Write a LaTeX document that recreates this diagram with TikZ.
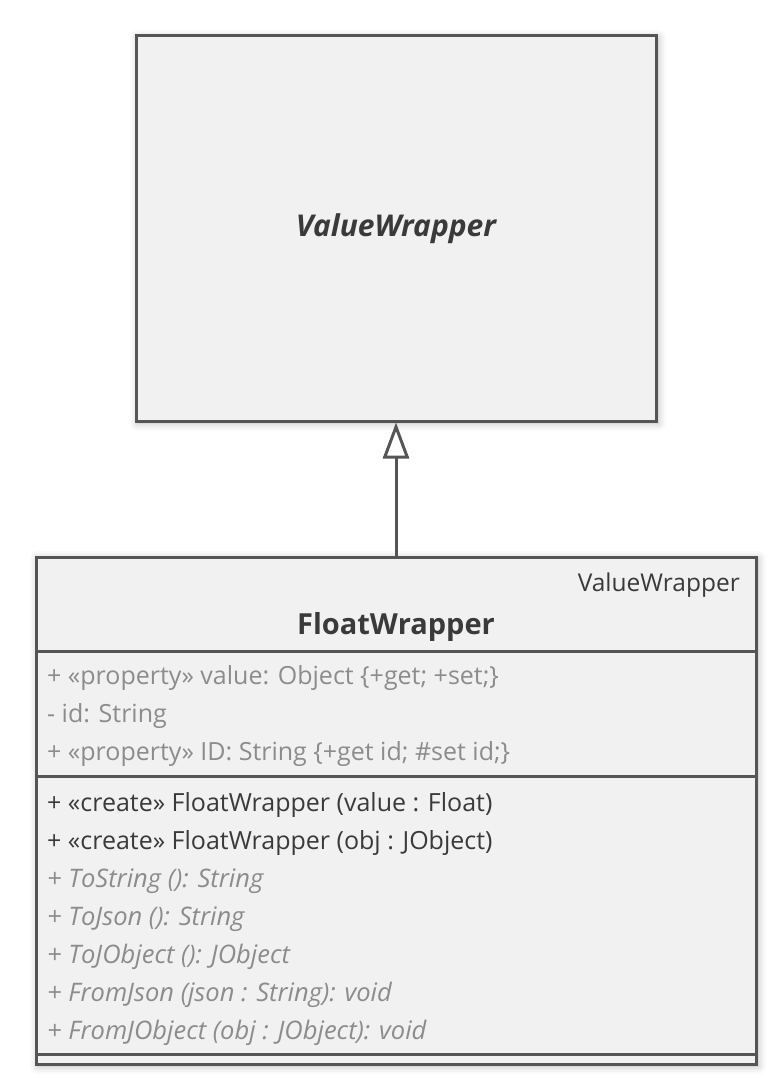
\documentclass[tikz,border=0pt]{standalone}
\usepackage{fontspec}
\setmainfont{Open Sans}
\usetikzlibrary{shadows.blur,arrows.meta}
\definecolor{edge}{HTML}{555555}
\definecolor{boxfill}{HTML}{F1F1F1}
\definecolor{dark}{HTML}{3A3A3A}
\definecolor{soft}{HTML}{8C8C8C}
\begin{document}
\begin{tikzpicture}[x=1pt,y=-1pt,
	classbox/.style={draw=edge,fill=boxfill,line width=3pt,inner sep=0pt,
		blur shadow={shadow xshift=2pt,shadow yshift=-2pt,shadow blur radius=8pt,shadow opacity=30}},
	sep/.style={draw=edge,line width=3pt},
	member/.style={anchor=base west,inner sep=0pt,font=\fontsize{25}{30}\selectfont},
	attr/.style={member,text=soft},
	ctor/.style={member,text=dark},
	op/.style={member,text=soft,font=\fontsize{25.5}{30}\selectfont\itshape}]
	\useasboundingbox (0,0) rectangle (776,1086);
	\node[classbox,minimum width=520pt,minimum height=385pt,text=dark,
		font=\fontsize{30}{36}\selectfont\bfseries\itshape] (base) at (396,228.5) {ValueWrapper};
	\node[classbox,minimum width=720pt,minimum height=507pt] (float) at (396,810.5) {};
	\node[anchor=base east,inner sep=0pt,text=dark,font=\fontsize{24.5}{30}\selectfont] (parent) at (740,591) {ValueWrapper};
	\node[anchor=base,inner sep=0pt,text=dark,font=\fontsize{29}{34}\selectfont\bfseries] (name) at (396,634) {FloatWrapper};
	\draw[sep] (36,651) -- (756,651);
	\draw[sep] (36,776) -- (756,776);
	\draw[sep] (36,1054) -- (756,1054);
	\node[attr] (a1) at (47,684) {+ «property» value: Object \{+get; +set;\}};
	\node[attr] (a2) at (47,722) {- id: String};
	\node[attr] (a3) at (47,760) {+ «property» ID: String \{+get id; \#set id;\}};
	\node[ctor] (m1) at (47,811) {+ «create» FloatWrapper (value : Float)};
	\node[ctor] (m2) at (47,849) {+ «create» FloatWrapper (obj : JObject)};
	\node[op] (m3) at (47,887) {+ ToString (): String};
	\node[op] (m4) at (47,925) {+ ToJson (): String};
	\node[op] (m5) at (47,963) {+ ToJObject (): JObject};
	\node[op] (m6) at (47,1001) {+ FromJson (json : String): void};
	\node[op] (m7) at (47,1039) {+ FromJObject (obj : JObject): void};
	\draw[edge,line width=3pt,-{Triangle[open,length=36pt,width=26pt]}] (float.north) -- (base.south);
\end{tikzpicture}
\end{document}
